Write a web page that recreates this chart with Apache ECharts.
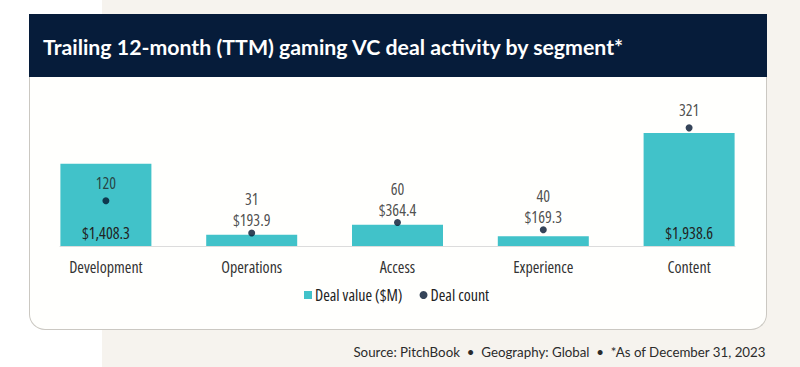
<!DOCTYPE html>
<html>
<head>
<meta charset="utf-8">
<script src="https://cdn.jsdelivr.net/npm/echarts@6/dist/echarts.min.js"></script>
<style>
  html, body { margin: 0; padding: 0; }
  body {
    width: 800px; height: 367px; overflow: hidden; position: relative;
    background: linear-gradient(to right, #ffffff 0px, #ffffff 102px, #f6f3ee 102px, #f6f3ee 100%);
  }
  #card {
    position: absolute; left: 29px; top: 14px; width: 736px; height: 315px;
    background: #fffffd; border: 1px solid #cbc8c2; border-top: none;
    border-radius: 0 0 16px 16px;
  }
  #header {
    position: absolute; left: 29px; top: 14px; width: 738px; height: 63px;
    background: #061c3a;
  }
  #chart { position: absolute; left: 0; top: 0; width: 800px; height: 367px; }
  #chart svg text { font-stretch: 75%; }
</style>
</head>
<body>
<div id="card"></div>
<div id="header"></div>
<div id="chart"></div>
<script>
const categories = ['Development', 'Operations', 'Access', 'Experience', 'Content'];
const dealValue = [1408.3, 193.9, 364.4, 169.3, 1938.6];
const dealCount = [120, 31, 60, 40, 321];
const titleText = 'Trailing 12-month (TTM) gaming VC deal activity by segment*';
const sourceText = 'Source: PitchBook  \u2022  Geography: Global  \u2022  *As of December 31, 2023';
const seriesNames = ['Deal value ($M)', 'Deal count'];

const NARROW = '"Open Sans", sans-serif';
const FS = 16;
const TEAL = '#41c2c9';
const NAVY = '#03152f';
const INSIDE_THRESHOLD = 1000;

const fmt = new Intl.NumberFormat('en-US', { minimumFractionDigits: 1, maximumFractionDigits: 1 });
const money = v => '$' + fmt.format(v);

const barData = dealValue.map(v => ({
  value: v,
  label: { show: v >= INSIDE_THRESHOLD }
}));
const dotData = dealCount.map((c, i) => ({
  value: c,
  label: { distance: dealValue[i] >= INSIDE_THRESHOLD ? 4 : -1.5 }
}));

const chart = echarts.init(document.getElementById('chart'), null, { renderer: 'svg' });
chart.setOption({
  animation: false,
  title: [
    {
      text: titleText, left: 43, top: 34, padding: 0,
      textStyle: { color: '#ffffff', fontFamily: 'Lato, sans-serif', fontWeight: 'bold', fontSize: 21.3, lineHeight: 26 }
    },
    {
      text: sourceText, right: 34, top: 344, padding: 0,
      textStyle: { color: '#2b2b2b', fontFamily: 'Lato, sans-serif', fontWeight: 'normal', fontSize: 13.3, lineHeight: 16 }
    }
  ],
  legend: {
    data: [
      { name: seriesNames[0], icon: 'rect' },
      { name: seriesNames[1], icon: 'circle' }
    ],
    left: 304, top: 287, padding: 0,
    itemWidth: 8, itemHeight: 8, itemGap: -10,
    textStyle: { color: '#222', fontFamily: NARROW, fontSize: FS, padding: [0, 0, 0, -2] }
  },
  grid: [
    { left: 33, right: 38, top: 117.7, bottom: 121, containLabel: false },
    { left: 60, right: 65, top: 117.7, bottom: 121, containLabel: false }
  ],
  xAxis: [
    {
      type: 'category', data: categories, gridIndex: 0,
      axisLine: { show: false }, axisTick: { show: false },
      axisLabel: { color: '#333', fontFamily: NARROW, fontSize: FS, margin: 13 }
    },
    {
      type: 'category', data: categories, gridIndex: 1,
      axisLine: { show: true, lineStyle: { color: '#dcdcdc', width: 1 } },
      axisTick: { show: false }, axisLabel: { show: false }
    }
  ],
  yAxis: [
    { type: 'value', min: 0, max: 2200, show: false, gridIndex: 0 },
    { type: 'value', min: -5, max: 349, show: false, gridIndex: 0 },
    { type: 'value', min: 0, max: 1, show: false, gridIndex: 1 }
  ],
  series: [
    {
      name: seriesNames[0], type: 'bar', xAxisIndex: 0, yAxisIndex: 0,
      data: barData, barWidth: 91,
      itemStyle: { color: TEAL },
      label: {
        position: 'insideBottom', distance: 5,
        formatter: p => money(p.value),
        color: '#222', fontFamily: NARROW, fontSize: FS, lineHeight: 16
      },
      z: 2
    },
    {
      name: seriesNames[1], type: 'scatter', xAxisIndex: 0, yAxisIndex: 1,
      data: dotData, symbol: 'circle', symbolSize: 7,
      itemStyle: { color: NAVY },
      clip: false,
      label: {
        show: true, position: 'top',
        formatter: p => {
          const v = dealValue[p.dataIndex];
          return v >= INSIDE_THRESHOLD ? '{c|' + p.value + '}' : '{c|' + p.value + '}\n{v|' + money(v) + '}';
        },
        rich: {
          c: { color: '#222', fontFamily: NARROW, fontSize: FS, lineHeight: 21 },
          v: { color: '#222', fontFamily: NARROW, fontSize: FS, lineHeight: 21 }
        }
      },
      z: 3
    }
  ]
});
</script>
</body>
</html>
